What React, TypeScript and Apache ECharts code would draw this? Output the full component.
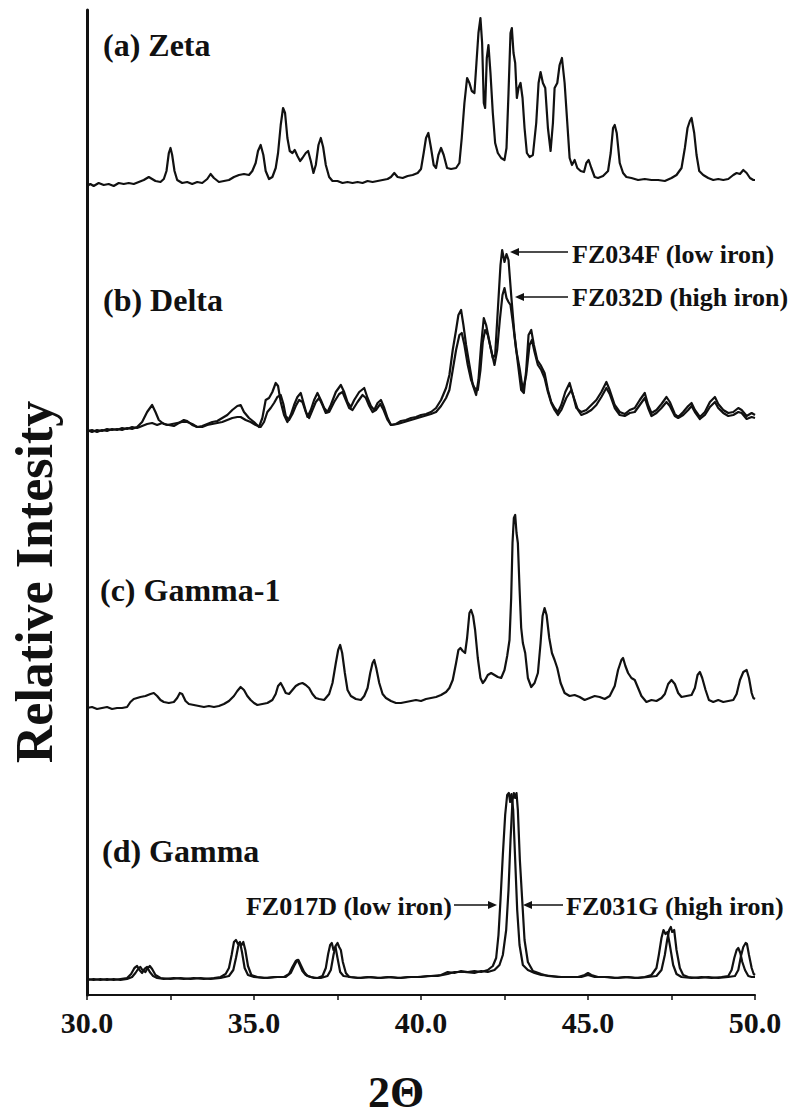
import React, { useEffect, useRef } from "react";
import * as echarts from "echarts";

// ---- data (2θ, intensity above each pattern's baseline) ----
const zeta: [number, number][] = [
  [30.0, -3], [30.1, -1], [30.2, -3], [30.35, 0], [30.5, -2], [30.65, -1], [30.8, -3], [30.95, 0], [31.1, -1],
  [31.25, 0], [31.4, -1], [31.55, 1], [31.7, 3], [31.85, 6], [31.95, 4], [32.05, 2], [32.2, 1], [32.3, 4],
  [32.38, 12], [32.45, 30], [32.5, 35], [32.55, 28], [32.62, 12], [32.7, 3], [32.85, 0], [33.0, 1], [33.15, -1],
  [33.3, 1], [33.45, 0], [33.6, 4], [33.7, 9], [33.8, 5], [33.95, 1], [34.1, 2], [34.25, 3], [34.4, 6],
  [34.55, 8], [34.7, 9], [34.85, 8], [34.95, 12], [35.05, 20], [35.12, 32], [35.2, 38], [35.28, 28], [35.35, 12],
  [35.45, 4], [35.55, 6], [35.65, 15], [35.72, 30], [35.8, 58], [35.87, 75], [35.93, 70], [36.0, 45], [36.07, 32],
  [36.15, 30], [36.22, 33], [36.3, 27], [36.38, 22], [36.45, 25], [36.55, 30], [36.62, 32], [36.7, 22], [36.78, 10],
  [36.85, 18], [36.93, 38], [37.0, 45], [37.07, 36], [37.15, 18], [37.25, 6], [37.35, 2], [37.5, 2], [37.65, 0],
  [37.8, 1], [37.95, 0], [38.1, 1], [38.25, 0], [38.4, 2], [38.55, 1], [38.7, 2], [38.85, 3], [39.0, 4],
  [39.1, 6], [39.2, 10], [39.3, 6], [39.45, 5], [39.6, 7], [39.75, 8], [39.9, 10], [40.0, 14], [40.08, 30],
  [40.15, 45], [40.22, 50], [40.3, 35], [40.38, 18], [40.45, 15], [40.52, 28], [40.6, 35], [40.68, 28], [40.78, 15],
  [40.9, 14], [41.05, 15], [41.15, 20], [41.22, 45], [41.3, 80], [41.38, 105], [41.45, 100], [41.52, 92], [41.6, 90],
  [41.66, 120], [41.72, 150], [41.78, 165], [41.83, 140], [41.88, 80], [41.92, 75], [41.97, 125], [42.02, 138],
  [42.08, 110], [42.15, 70], [42.22, 40], [42.3, 30], [42.4, 25], [42.5, 23], [42.56, 35], [42.62, 90], [42.68, 150],
  [42.72, 155], [42.77, 130], [42.82, 120], [42.87, 85], [42.92, 95], [42.98, 100], [43.04, 85], [43.1, 55],
  [43.17, 30], [43.25, 26], [43.35, 28], [43.45, 60], [43.52, 100], [43.58, 111], [43.65, 100], [43.72, 95],
  [43.8, 55], [43.88, 32], [43.95, 60], [44.0, 95], [44.08, 100], [44.15, 118], [44.22, 125], [44.3, 100],
  [44.38, 60], [44.45, 25], [44.52, 18], [44.6, 23], [44.68, 15], [44.78, 12], [44.88, 11], [44.95, 20], [45.02, 23],
  [45.1, 15], [45.2, 6], [45.3, 5], [45.45, 7], [45.6, 12], [45.68, 30], [45.75, 55], [45.8, 58], [45.86, 50],
  [45.95, 20], [46.05, 10], [46.15, 6], [46.3, 5], [46.5, 3], [46.7, 4], [46.9, 3], [47.1, 3], [47.3, 2],
  [47.5, 5], [47.65, 8], [47.8, 15], [47.9, 35], [47.98, 55], [48.05, 62], [48.1, 65], [48.18, 50], [48.25, 28],
  [48.33, 12], [48.45, 8], [48.6, 5], [48.75, 3], [48.9, 4], [49.05, 3], [49.2, 4], [49.35, 8], [49.45, 10],
  [49.55, 9], [49.65, 13], [49.75, 10], [49.85, 5], [49.95, 3], [50.0, 3],
];

const deltaLow: [number, number][] = [
  [30.0, 0], [30.15, -2], [30.3, 0], [30.45, -1], [30.6, 1], [30.75, 0], [30.9, 1], [31.05, 0], [31.2, 2],
  [31.35, 1], [31.5, 3], [31.65, 8], [31.8, 18], [31.95, 25], [32.05, 18], [32.15, 10], [32.3, 6], [32.45, 5],
  [32.6, 4], [32.75, 7], [32.9, 10], [33.0, 9], [33.15, 5], [33.3, 3], [33.45, 4], [33.6, 6], [33.75, 8],
  [33.9, 9], [34.05, 12], [34.2, 15], [34.35, 20], [34.5, 24], [34.6, 25], [34.7, 18], [34.85, 12], [35.0, 8],
  [35.15, 3], [35.25, 12], [35.35, 30], [35.45, 32], [35.55, 38], [35.65, 47], [35.72, 44], [35.8, 28], [35.9, 15],
  [36.0, 8], [36.1, 15], [36.2, 25], [36.3, 33], [36.4, 37], [36.5, 25], [36.6, 13], [36.7, 20], [36.8, 30],
  [36.9, 37], [37.0, 30], [37.1, 22], [37.2, 18], [37.3, 25], [37.45, 38], [37.6, 45], [37.7, 38], [37.8, 28],
  [37.9, 23], [38.0, 30], [38.15, 38], [38.3, 42], [38.4, 32], [38.5, 24], [38.6, 20], [38.7, 27], [38.8, 30],
  [38.9, 22], [39.0, 12], [39.1, 5], [39.25, 6], [39.4, 9], [39.55, 10], [39.7, 12], [39.85, 13], [40.0, 15],
  [40.15, 16], [40.3, 18], [40.45, 22], [40.6, 30], [40.75, 42], [40.85, 55], [40.95, 80], [41.05, 100],
  [41.12, 115], [41.2, 120], [41.27, 105], [41.35, 85], [41.45, 65], [41.55, 45], [41.65, 35], [41.72, 50],
  [41.8, 85], [41.88, 112], [41.95, 105], [42.05, 88], [42.15, 72], [42.22, 75], [42.3, 120], [42.38, 165],
  [42.43, 180], [42.5, 168], [42.56, 176], [42.62, 170], [42.7, 135], [42.8, 95], [42.9, 67], [43.0, 40],
  [43.08, 37], [43.15, 60], [43.22, 95], [43.3, 100], [43.38, 85], [43.48, 70], [43.58, 65], [43.7, 57],
  [43.8, 40], [43.9, 28], [44.0, 22], [44.1, 18], [44.2, 25], [44.32, 38], [44.45, 47], [44.55, 35], [44.65, 22],
  [44.8, 18], [44.95, 20], [45.1, 25], [45.25, 30], [45.4, 38], [45.55, 48], [45.65, 40], [45.8, 25], [45.95, 18],
  [46.1, 16], [46.25, 20], [46.4, 22], [46.55, 30], [46.7, 37], [46.8, 25], [46.9, 17], [47.05, 20], [47.2, 26],
  [47.35, 33], [47.45, 28], [47.6, 16], [47.7, 13], [47.85, 18], [48.0, 24], [48.1, 27], [48.2, 20], [48.35, 13],
  [48.5, 18], [48.65, 28], [48.8, 33], [48.9, 26], [49.05, 20], [49.2, 17], [49.35, 18], [49.5, 22], [49.6, 20],
  [49.75, 14], [49.9, 17], [50.0, 15],
];

const deltaHigh: [number, number][] = [
  [30.0, -1], [30.15, 0], [30.3, -2], [30.45, 0], [30.6, -1], [30.75, 1], [30.9, 0], [31.05, 2], [31.2, 1],
  [31.35, 3], [31.5, 2], [31.65, 4], [31.8, 6], [31.95, 7], [32.1, 5], [32.25, 7], [32.4, 5], [32.55, 6],
  [32.7, 7], [32.85, 8], [33.0, 8], [33.15, 6], [33.3, 3], [33.45, 3], [33.6, 5], [33.75, 6], [33.9, 7],
  [34.05, 8], [34.2, 10], [34.35, 12], [34.5, 13], [34.6, 13], [34.75, 10], [34.9, 8], [35.05, 5], [35.2, 3],
  [35.3, 8], [35.4, 18], [35.5, 22], [35.6, 27], [35.7, 33], [35.8, 35], [35.88, 26], [35.95, 14], [36.05, 10],
  [36.15, 16], [36.25, 24], [36.35, 30], [36.45, 28], [36.55, 18], [36.65, 12], [36.75, 20], [36.85, 28],
  [36.95, 32], [37.05, 25], [37.15, 17], [37.25, 18], [37.4, 28], [37.55, 36], [37.65, 38], [37.75, 30],
  [37.85, 22], [37.95, 20], [38.1, 28], [38.25, 35], [38.35, 32], [38.45, 24], [38.55, 18], [38.65, 20],
  [38.78, 26], [38.88, 20], [39.0, 10], [39.1, 5], [39.3, 6], [39.5, 8], [39.7, 10], [39.9, 12], [40.1, 14],
  [40.3, 16], [40.45, 18], [40.6, 24], [40.75, 32], [40.85, 40], [40.95, 60], [41.05, 80], [41.15, 95],
  [41.22, 97], [41.3, 85], [41.4, 65], [41.5, 50], [41.6, 42], [41.7, 40], [41.78, 60], [41.85, 88], [41.92, 100],
  [42.0, 95], [42.1, 80], [42.2, 65], [42.28, 80], [42.36, 110], [42.44, 135], [42.5, 142], [42.56, 132],
  [42.62, 128], [42.68, 125], [42.76, 105], [42.85, 80], [42.95, 62], [43.05, 40], [43.15, 55], [43.25, 85],
  [43.32, 90], [43.4, 78], [43.5, 65], [43.6, 60], [43.7, 52], [43.8, 38], [43.9, 27], [44.0, 20], [44.1, 15],
  [44.2, 20], [44.35, 32], [44.5, 40], [44.6, 30], [44.7, 20], [44.8, 15], [44.95, 17], [45.1, 20], [45.25, 25],
  [45.4, 33], [45.55, 42], [45.65, 36], [45.8, 22], [45.95, 15], [46.1, 14], [46.25, 17], [46.4, 18], [46.55, 25],
  [46.7, 32], [46.8, 22], [46.9, 14], [47.05, 17], [47.2, 22], [47.35, 28], [47.45, 24], [47.6, 14], [47.7, 12],
  [47.85, 15], [48.0, 20], [48.1, 24], [48.2, 18], [48.35, 11], [48.5, 15], [48.65, 23], [48.8, 28], [48.9, 22],
  [49.05, 17], [49.2, 14], [49.35, 15], [49.5, 18], [49.6, 17], [49.75, 11], [49.9, 13], [50.0, 12],
];

const gamma1: [number, number][] = [
  [30.0, 0], [30.15, 1], [30.3, -1], [30.45, 0], [30.6, 1], [30.75, -1], [30.9, 0], [31.05, 0], [31.2, 1],
  [31.3, 6], [31.4, 9], [31.5, 10], [31.6, 11], [31.75, 12], [31.9, 14], [32.0, 15], [32.1, 12], [32.2, 8],
  [32.3, 6], [32.45, 5], [32.6, 6], [32.7, 10], [32.78, 15], [32.85, 14], [32.95, 7], [33.05, 4], [33.2, 3],
  [33.35, 2], [33.5, 1], [33.65, 2], [33.8, 1], [33.95, 2], [34.1, 4], [34.25, 7], [34.4, 12], [34.5, 17],
  [34.6, 21], [34.7, 18], [34.8, 12], [34.9, 8], [35.0, 5], [35.1, 3], [35.25, 4], [35.4, 5], [35.55, 8],
  [35.65, 14], [35.72, 22], [35.8, 25], [35.88, 20], [35.95, 15], [36.05, 14], [36.15, 18], [36.25, 22],
  [36.35, 24], [36.45, 25], [36.55, 23], [36.65, 20], [36.75, 14], [36.85, 10], [36.95, 9], [37.1, 8],
  [37.25, 14], [37.35, 25], [37.45, 45], [37.52, 58], [37.58, 63], [37.64, 55], [37.72, 35], [37.8, 18],
  [37.9, 12], [38.05, 9], [38.2, 8], [38.3, 12], [38.4, 20], [38.48, 35], [38.55, 45], [38.6, 48], [38.66, 40],
  [38.75, 25], [38.85, 14], [38.95, 10], [39.1, 7], [39.25, 5], [39.4, 5], [39.55, 6], [39.7, 7], [39.85, 8],
  [40.0, 7], [40.15, 9], [40.3, 10], [40.45, 11], [40.6, 13], [40.75, 16], [40.85, 20], [40.95, 28], [41.05, 45],
  [41.12, 58], [41.18, 60], [41.25, 57], [41.32, 55], [41.38, 70], [41.45, 95], [41.5, 98], [41.56, 92],
  [41.62, 78], [41.7, 50], [41.78, 30], [41.85, 25], [41.92, 28], [42.0, 33], [42.1, 35], [42.2, 33], [42.3, 31],
  [42.4, 30], [42.5, 38], [42.58, 52], [42.65, 68], [42.7, 110], [42.74, 165], [42.78, 190], [42.82, 193],
  [42.86, 175], [42.9, 165], [42.95, 120], [43.0, 80], [43.05, 65], [43.12, 55], [43.2, 30], [43.3, 21],
  [43.4, 25], [43.5, 35], [43.58, 65], [43.64, 92], [43.7, 100], [43.76, 93], [43.84, 70], [43.92, 55], [44.0, 48],
  [44.08, 40], [44.18, 25], [44.3, 15], [44.45, 12], [44.6, 13], [44.75, 11], [44.9, 8], [45.05, 10], [45.2, 12],
  [45.35, 11], [45.5, 9], [45.65, 12], [45.8, 22], [45.9, 38], [46.0, 48], [46.05, 50], [46.12, 42], [46.2, 35],
  [46.3, 30], [46.4, 28], [46.5, 20], [46.6, 12], [46.75, 6], [46.9, 8], [47.05, 7], [47.2, 10], [47.3, 14],
  [47.4, 24], [47.5, 28], [47.6, 24], [47.7, 15], [47.8, 11], [47.95, 12], [48.1, 13], [48.2, 20], [48.28, 33],
  [48.35, 36], [48.42, 30], [48.52, 18], [48.62, 8], [48.75, 6], [48.9, 8], [49.05, 6], [49.2, 7], [49.35, 8],
  [49.45, 14], [49.55, 28], [49.65, 36], [49.75, 38], [49.82, 30], [49.9, 15], [49.95, 10], [50.0, 9],
];

const gammaLow: [number, number][] = [
  [30.0, 0], [30.2, 1], [30.4, 0], [30.6, 1], [30.8, 0], [31.0, 1], [31.2, 2], [31.32, 6], [31.42, 12], [31.5, 14],
  [31.57, 10], [31.65, 7], [31.72, 11], [31.8, 13], [31.88, 8], [31.98, 4], [32.1, 2], [32.3, 1], [32.6, 2],
  [32.9, 1], [33.2, 2], [33.5, 1], [33.8, 2], [34.0, 3], [34.15, 6], [34.25, 12], [34.33, 25], [34.4, 38],
  [34.46, 40], [34.52, 36], [34.58, 38], [34.64, 28], [34.72, 12], [34.82, 5], [35.0, 3], [35.3, 2], [35.6, 3],
  [35.9, 3], [36.05, 6], [36.15, 13], [36.25, 19], [36.3, 20], [36.36, 16], [36.45, 9], [36.55, 5], [36.7, 3],
  [36.9, 2], [37.05, 4], [37.15, 12], [37.22, 26], [37.28, 35], [37.33, 37], [37.38, 30], [37.44, 33], [37.5, 22],
  [37.58, 8], [37.68, 4], [37.9, 3], [38.2, 2], [38.5, 3], [38.8, 2], [39.1, 3], [39.4, 2], [39.7, 3], [40.0, 3],
  [40.3, 4], [40.6, 5], [40.8, 8], [41.0, 7], [41.2, 9], [41.4, 8], [41.6, 9], [41.8, 8], [42.0, 10], [42.15, 14],
  [42.25, 22], [42.32, 45], [42.38, 80], [42.45, 125], [42.52, 165], [42.58, 185], [42.63, 187], [42.67, 178],
  [42.71, 186], [42.76, 170], [42.82, 120], [42.88, 70], [42.95, 35], [43.05, 15], [43.2, 10], [43.4, 7],
  [43.6, 5], [43.9, 4], [44.2, 3], [44.5, 3], [44.8, 3], [45.0, 5], [45.2, 3], [45.5, 3], [45.8, 2], [46.1, 3],
  [46.4, 2], [46.7, 3], [46.9, 5], [47.05, 12], [47.12, 25], [47.2, 42], [47.26, 50], [47.32, 46], [47.38, 48],
  [47.45, 35], [47.55, 15], [47.65, 6], [47.8, 3], [48.1, 2], [48.4, 3], [48.7, 2], [49.0, 3], [49.2, 4],
  [49.3, 10], [49.38, 22], [49.45, 30], [49.5, 32], [49.56, 27], [49.62, 18], [49.7, 10], [49.8, 4], [49.9, 3],
  [50.0, 3],
];

const gammaHigh: [number, number][] = [
  [30.0, 1], [30.2, 0], [30.4, 1], [30.6, 0], [30.8, 1], [31.0, 0], [31.2, 1], [31.35, 3], [31.45, 7], [31.55, 12],
  [31.6, 13], [31.66, 10], [31.75, 8], [31.82, 12], [31.88, 14], [31.95, 11], [32.05, 5], [32.2, 2], [32.5, 1],
  [32.8, 2], [33.1, 1], [33.4, 2], [33.7, 1], [34.0, 2], [34.25, 4], [34.38, 10], [34.46, 22], [34.53, 34],
  [34.58, 37], [34.63, 35], [34.68, 38], [34.74, 30], [34.82, 14], [34.92, 5], [35.1, 3], [35.4, 2], [35.7, 3],
  [35.95, 3], [36.1, 7], [36.2, 14], [36.28, 19], [36.33, 20], [36.4, 15], [36.5, 8], [36.6, 4], [36.8, 2],
  [37.0, 2], [37.2, 4], [37.3, 10], [37.38, 25], [37.44, 34], [37.5, 37], [37.55, 33], [37.6, 30], [37.66, 18],
  [37.75, 7], [37.85, 3], [38.1, 2], [38.4, 3], [38.7, 2], [39.0, 3], [39.3, 2], [39.6, 3], [39.9, 3], [40.2, 4],
  [40.5, 4], [40.8, 6], [41.0, 8], [41.3, 8], [41.6, 7], [41.8, 9], [42.0, 8], [42.2, 10], [42.35, 15],
  [42.45, 25], [42.55, 50], [42.62, 90], [42.68, 140], [42.74, 180], [42.78, 187], [42.82, 182], [42.86, 187],
  [42.9, 170], [42.96, 120], [43.03, 80], [43.1, 40], [43.2, 18], [43.35, 9], [43.6, 6], [43.8, 4], [44.1, 3],
  [44.4, 3], [44.7, 3], [44.9, 5], [45.0, 7], [45.1, 5], [45.3, 3], [45.6, 3], [45.9, 2], [46.2, 3], [46.5, 2],
  [46.8, 3], [47.05, 4], [47.2, 10], [47.3, 25], [47.37, 40], [47.43, 50], [47.48, 53], [47.52, 48], [47.58, 50],
  [47.65, 30], [47.75, 12], [47.85, 5], [48.0, 3], [48.3, 2], [48.6, 3], [48.9, 2], [49.2, 3], [49.4, 4],
  [49.5, 10], [49.58, 24], [49.65, 33], [49.72, 37], [49.76, 36], [49.82, 25], [49.9, 12], [49.96, 6], [50.0, 5],
];

// vertical offsets that stack the four patterns
const zetaOffset = 812;
const deltaOffset = 565;
const gamma1Offset = 287;
const gammaOffset = 15;

const tickLabels = ["30.0", "35.0", "40.0", "45.0", "50.0"];
const tickValues = [30, 35, 40, 45, 50];
const panelLabels = ["(a) Zeta", "(b) Delta", "(c) Gamma-1", "(d) Gamma"];

const FONT = "'Liberation Serif', 'Times New Roman', serif";

function shift(d: [number, number][], off: number) {
  return d.map(([x, y]) => [x, y + off]);
}

function lineSeries(name: string, data: number[][]) {
  return {
    type: "line",
    name,
    data,
    showSymbol: false,
    symbol: "none",
    lineStyle: { color: "#111", width: 2.2, join: "round" },
    z: 3,
  };
}

function arrowLeft(x1: number, x2: number, y: number) {
  return [
    { type: "line", shape: { x1: x1 + 6, y1: y, x2, y2: y }, style: { stroke: "#111", lineWidth: 1.5 } },
    { type: "polygon", shape: { points: [[x1, y], [x1 + 9, y - 4], [x1 + 9, y + 4]] }, style: { fill: "#111" } },
  ];
}
function arrowRight(x1: number, x2: number, y: number) {
  return [
    { type: "line", shape: { x1, y1: y, x2: x2 - 6, y2: y }, style: { stroke: "#111", lineWidth: 1.5 } },
    { type: "polygon", shape: { points: [[x2, y], [x2 - 9, y - 4], [x2 - 9, y + 4]] }, style: { fill: "#111" } },
  ];
}

export default function App() {
  const ref = useRef<HTMLDivElement>(null);
  useEffect(() => {
    if (!ref.current) return;
    const chart = echarts.init(ref.current, undefined, { renderer: "svg" });
    const panelPos = [
      [103, 45],
      [103, 300],
      [100, 590],
      [102, 851],
    ];
    const textStyle = (txt: string, size: number) => ({
      text: txt,
      fill: "#111",
      font: `bold ${size}px ${FONT}`,
    });
    const graphic: any[] = [];
    panelLabels.forEach((t, i) => {
      graphic.push({
        type: "text",
        x: panelPos[i][0],
        y: panelPos[i][1],
        style: { ...textStyle(t, 32), align: "left", verticalAlign: "middle" },
      });
    });
    graphic.push({
      type: "text",
      x: 34,
      y: 582,
      rotation: Math.PI / 2,
      style: { ...textStyle("Relative Intesity", 52), align: "center", verticalAlign: "middle" },
    });
    graphic.push({
      type: "text",
      x: 396,
      y: 1092,
      style: { ...textStyle("2\u0398", 44), align: "center", verticalAlign: "middle" },
    });
    graphic.push({
      type: "text",
      x: 572,
      y: 254,
      style: { ...textStyle("FZ034F (low iron)", 26), align: "left", verticalAlign: "middle" },
    });
    graphic.push(...arrowLeft(510, 568, 252));
    graphic.push({
      type: "text",
      x: 572,
      y: 297,
      style: { ...textStyle("FZ032D (high iron)", 26), align: "left", verticalAlign: "middle" },
    });
    graphic.push(...arrowLeft(515, 568, 297));
    graphic.push({
      type: "text",
      x: 452,
      y: 906,
      style: { ...textStyle("FZ017D (low iron)", 26), align: "right", verticalAlign: "middle" },
    });
    graphic.push(...arrowRight(454, 497, 905));
    graphic.push({
      type: "text",
      x: 566,
      y: 906,
      style: { ...textStyle("FZ031G (high iron)", 26), align: "left", verticalAlign: "middle" },
    });
    graphic.push(...arrowLeft(523, 563, 905));

    chart.setOption({
      animation: false,
      backgroundColor: "#fff",
      grid: { left: 87, right: 40, top: 10, bottom: 121 },
      xAxis: {
        type: "value",
        min: 30,
        max: 50,
        interval: 2.5,
        splitLine: { show: false },
        axisLine: { show: true, onZero: false, lineStyle: { color: "#111", width: 2 } },
        axisTick: { show: true, length: 5, lineStyle: { color: "#111", width: 1.5 } },
        axisLabel: {
          margin: 12,
          color: "#111",
          fontFamily: FONT,
          fontWeight: "bold",
          fontSize: 30,
          formatter: (v: number) => {
            const i = tickValues.indexOf(v);
            return i >= 0 ? tickLabels[i] : "";
          },
        },
      },
      yAxis: {
        type: "value",
        min: 0,
        max: 985,
        splitLine: { show: false },
        axisLine: { show: true, lineStyle: { color: "#111", width: 3 } },
        axisTick: { show: false },
        axisLabel: { show: false },
      },
      series: [
        lineSeries("Zeta", shift(zeta, zetaOffset)),
        lineSeries("Delta FZ034F", shift(deltaLow, deltaOffset)),
        lineSeries("Delta FZ032D", shift(deltaHigh, deltaOffset)),
        lineSeries("Gamma-1", shift(gamma1, gamma1Offset)),
        lineSeries("Gamma FZ017D", shift(gammaLow, gammaOffset)),
        lineSeries("Gamma FZ031G", shift(gammaHigh, gammaOffset)),
      ],
      graphic,
    });
    return () => chart.dispose();
  }, []);
  return (
    <div
      ref={ref}
      style={{ position: "fixed", left: 0, top: 0, width: 795, height: 1116, background: "#fff" }}
    />
  );
}
